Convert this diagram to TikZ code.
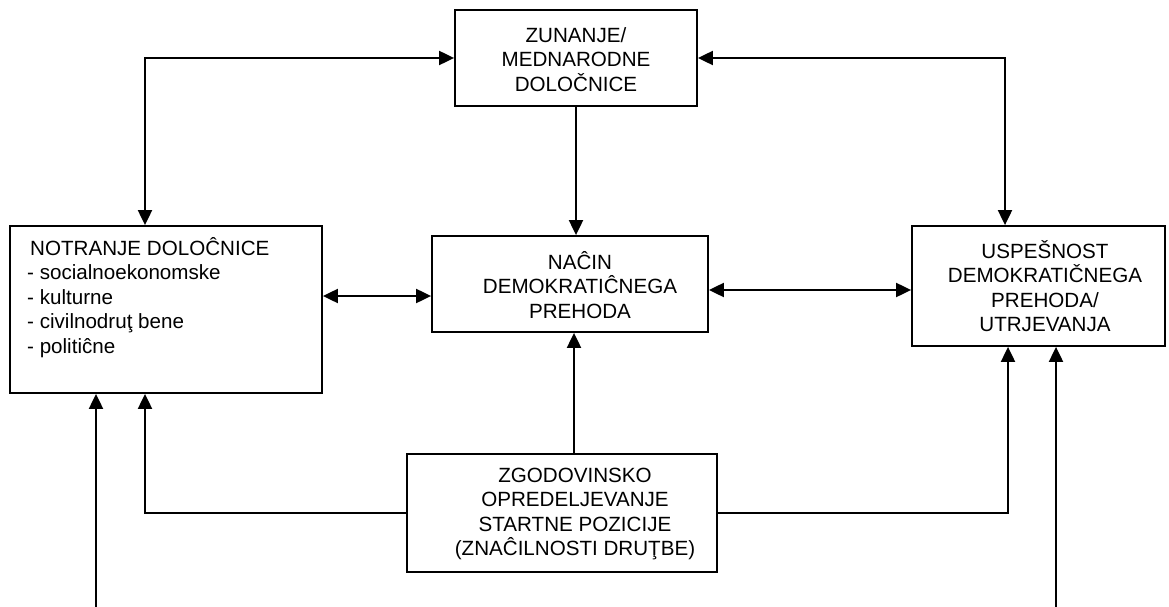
\documentclass[tikz,border=0pt]{standalone}
\usepackage{fontspec}
\setmainfont{Liberation Sans}
\usetikzlibrary{arrows.meta}
\begin{document}
\begin{tikzpicture}[x=1pt,y=-1pt,
  box/.style={draw,line width=1.8pt,inner sep=0pt},
  lbl/.style={align=center,inner sep=0pt,font=\fontsize{20.6}{24.5}\selectfont},
  lblleft/.style={align=left,inner sep=0pt,anchor=north west,font=\fontsize{20.6}{24.5}\selectfont},
  conn/.style={line width=2pt,-{Triangle[length=15pt,width=14pt]}},
  conn2/.style={line width=2pt,{Triangle[length=15pt,width=14pt]}-{Triangle[length=15pt,width=14pt]}},
]
\useasboundingbox (0,0) rectangle (1169,607);
% boxes
\node[box,minimum width=242pt,minimum height=96pt] (T) at (576,58) {};
\node[box,minimum width=312pt,minimum height=167pt] (L) at (166,309.5) {};
\node[box,minimum width=276pt,minimum height=96pt] (M) at (570,284) {};
\node[box,minimum width=253pt,minimum height=120pt] (R) at (1038.5,286) {};
\node[box,minimum width=310pt,minimum height=118pt] (B) at (562,513) {};
% texts
\node[lbl] (Tt) at (576,59.5) {ZUNANJE/\\MEDNARODNE\\DOLOČNICE};
\node[lblleft] (Lt) at (27,237) {\hspace*{3pt}NOTRANJE DOLOĈNICE\\- socialnoekonomske\\- kulturne\\- civilnodruţ bene\\- politiĉne};
\node[lbl] (Mt) at (580,285) {NAĈIN\\DEMOKRATIĈNEGA\\PREHODA};
\node[lbl] (Rt) at (1045,286) {USPEŠNOST\\DEMOKRATIČNEGA\\PREHODA/\\UTRJEVANJA};
\node[lbl] (Bt) at (575,514) {ZGODOVINSKO\\OPREDELJEVANJE\\STARTNE POZICIJE\\(ZNAĈILNOSTI DRUŢBE)};
% free ends
\coordinate (f1) at (96,607);
\coordinate (f2) at (1056,607);
% connectors
\draw[conn2] (T.west) -| ([xshift=-21pt]L.north);
\draw[conn2] (T.east) -| ([xshift=-33.5pt]R.north);
\draw[conn] (T.south) -- (T.south |- M.north);
\coordinate (lm) at ([yshift=13.5pt]L.east);
\draw[conn2] (lm) -- (lm -| M.west);
\coordinate (mr) at ([yshift=-6pt]M.east);
\draw[conn2] (mr) -- (mr -| R.west);
\coordinate (bm) at ([xshift=12pt]B.north);
\draw[conn] (bm) -- (bm |- M.south);
\draw[conn] (B.west) -| ([xshift=-21pt]L.south);
\draw[conn] (B.east) -| ([xshift=-30.5pt]R.south);
\draw[conn] (f1) -- (f1 |- L.south);
\draw[conn] (f2) -- (f2 |- R.south);
\end{tikzpicture}
\end{document}
